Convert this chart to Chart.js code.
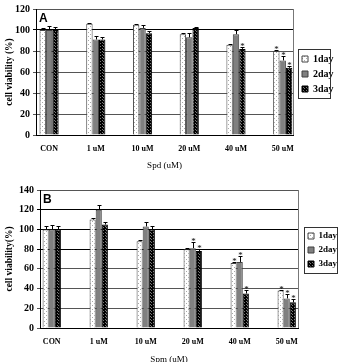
<!DOCTYPE html>
<html><head><meta charset="utf-8">
<script src="https://cdn.jsdelivr.net/npm/chart.js@4"></script>
<style>
html,body{margin:0;padding:0;background:#fff;overflow:hidden;width:339px;height:362px}
#a{position:absolute;left:0;top:0;width:339px;height:181px}
#b{position:absolute;left:0;top:181px;width:339px;height:190px}
</style></head><body>
<div id="a"><canvas id="ca" width="339" height="181"></canvas></div>
<div id="b"><canvas id="cb" width="339" height="190"></canvas></div>
<script>
// ---- data ----
const categories = ['CON', '1 uM', '10 uM', '20 uM', '40 uM', '50 uM'];
const seriesNames = ['1day', '2day', '3day'];

// Panel A: Spd
const spdDay1 = [100, 106, 105, 96, 86, 80];
const spdDay2 = [100, 91, 102, 93, 96, 71];
const spdDay3 = [100, 91, 97, 102, 82, 64];
const spdErr1 = [2, 1, 1, 1, 1, 1];
const spdErr2 = [4, 3, 3, 4, 4, 4];
const spdErr3 = [3, 2, 2, 1, 2, 2];
const spdStar1 = [0, 0, 0, 0, 0, 1];
const spdStar2 = [0, 0, 0, 0, 0, 1];
const spdStar3 = [0, 0, 0, 0, 1, 1];
const spdTicks = [0, 20, 40, 60, 80, 100, 120];

// Panel B: Spm
const spmDay1 = [100, 110, 88, 80, 66, 38];
const spmDay2 = [100, 120, 103, 81, 67, 30];
const spmDay3 = [100, 105, 100, 78, 35, 26];
const spmErr1 = [3, 2, 1, 1, 1, 1];
const spmErr2 = [5, 5, 5, 6, 6, 5];
const spmErr3 = [3, 3, 3, 2, 4, 3];
const spmStar1 = [0, 0, 0, 0, 1, 1];
const spmStar2 = [0, 0, 0, 1, 1, 1];
const spmStar3 = [0, 0, 0, 1, 1, 1];
const spmTicks = [0, 20, 40, 60, 80, 100, 120, 140];

// ---- patterns ----
function makePattern(bg, dot, step) {
  const c = document.createElement('canvas');
  c.width = step; c.height = step;
  const g = c.getContext('2d');
  g.fillStyle = bg; g.fillRect(0, 0, step, step);
  g.fillStyle = dot; g.fillRect(0, 0, 1, 1);
  g.fillRect(Math.floor(step/2), Math.floor(step/2), 1, 1);
  return document.createElement('canvas').getContext('2d').createPattern(c, 'repeat');
}
const fill1 = makePattern('#ffffff', '#a8a8a8', 4);
const fill2 = '#808080';
const fill3 = makePattern('#000000', '#7a7a7a', 3);
const fills = [fill1, fill2, fill3];
const borders = ['#444444', '#404040', '#000000'];

const serif = 'Liberation Serif, Times New Roman, serif';

const errPlugin = {
  id: 'errbars',
  afterLayout(chart, args, opts) {
    const lg = chart.legend;
    if (!lg) return;
    const a = chart.chartArea;
    const w = lg.width;
    lg.left = a.right + opts.legendDx;
    lg.right = lg.left + w;
    lg.top += opts.legendDy;
    lg.bottom += opts.legendDy;
  },
  afterDatasetsDraw(chart) {
    const ctx = chart.ctx, ys = chart.scales.y;
    ctx.save();
    ctx.strokeStyle = '#000'; ctx.lineWidth = 1;
    ctx.fillStyle = '#000';
    ctx.font = '9px ' + serif;
    ctx.textAlign = 'center'; ctx.textBaseline = 'bottom';
    chart.data.datasets.forEach((ds, di) => {
      const meta = chart.getDatasetMeta(di);
      meta.data.forEach((bar, i) => {
        const v = ds.data[i].y, e = ds.err[i];
        const x = Math.round(bar.x) + 0.5;
        const yTop = Math.round(ys.getPixelForValue(v + e)) + 0.5;
        ctx.beginPath();
        ctx.moveTo(x, bar.y); ctx.lineTo(x, yTop);
        ctx.moveTo(x - 2, yTop); ctx.lineTo(x + 2, yTop);
        ctx.stroke();
        if (ds.star[i]) ctx.fillText('*', x, yTop + 4);
      });
    });
    ctx.restore();
  },
  afterDraw(chart, args, opts) {
    const ctx = chart.ctx, a = chart.chartArea;
    ctx.save();
    ctx.strokeStyle = '#777'; ctx.lineWidth = 1;
    ctx.beginPath();
    ctx.moveTo(Math.round(a.right) + 0.5, a.top);
    ctx.lineTo(Math.round(a.right) + 0.5, a.bottom);
    ctx.stroke();
    // panel letter
    ctx.fillStyle = '#000';
    ctx.font = 'bold 12px Liberation Sans, Arial, sans-serif';
    ctx.textAlign = 'left'; ctx.textBaseline = 'top';
    ctx.fillText(opts.letter, a.left + 3, a.top + 4);
    // legend frame
    const hb = chart.legend.legendHitBoxes;
    if (hb && hb.length) {
      let x0 = Infinity, y0 = Infinity, y1 = -Infinity;
      hb.forEach(h => { x0 = Math.min(x0, h.left); y0 = Math.min(y0, h.top); y1 = Math.max(y1, h.top + h.height); });
      ctx.strokeStyle = '#333';
      ctx.strokeRect(Math.round(x0 - 4) + 0.5, Math.round(y0 - 5) + 0.5, opts.frameW, Math.round(y1 - y0 + 9));
    }
    ctx.restore();
  }
};

function build(canvasId, vals, errs, stars, ticks, cfg) {
  const datasets = seriesNames.map((n, k) => ({
    label: n,
    data: vals[k].map((v, i) => ({ x: i, y: v })),
    err: errs[k],
    star: stars[k],
    backgroundColor: fills[k],
    borderColor: borders[k],
    borderWidth: 1,
    categoryPercentage: cfg.catPct,
    barPercentage: 1.0
  }));
  return new Chart(document.getElementById(canvasId), {
    type: 'bar',
    data: { datasets },
    plugins: [errPlugin],
    options: {
      responsive: false,
      animation: false,
      devicePixelRatio: 1,
      layout: { padding: { top: cfg.padTop, right: 0, left: 0, bottom: 0 } },
      plugins: {
        errbars: { letter: cfg.letter, legendDx: cfg.legendDx, legendDy: cfg.legendDy, frameW: cfg.frameW },
        tooltip: { enabled: false },
        legend: {
          position: 'right',
          fullSize: false,
          maxWidth: cfg.legendW,
          labels: {
            boxWidth: 6, boxHeight: 6, padding: 5,
            color: '#000',
            font: { family: serif, size: cfg.legendFont, weight: 'bold' }
          }
        }
      },
      scales: {
        x: {
          type: 'linear',
          min: cfg.xMin, max: cfg.xMax,
          offset: false,
          afterBuildTicks: s => { s.ticks = categories.map((c, i) => ({ value: i })); },
          afterFit: s => { s.height = cfg.xHeight; },
          ticks: {
            callback: v => categories[v],
            autoSkip: false, maxRotation: 0,
            color: '#000', padding: 9,
            font: { family: serif, size: 8, weight: 'bold' }
          },
          grid: { display: false, drawTicks: false, offset: false },
          border: { display: true, color: '#000' },
          title: {
            display: true, text: cfg.xTitle, color: '#000',
            font: { family: serif, size: 9 },
            padding: { top: 2, bottom: cfg.xTitlePadBottom }
          }
        },
        y: {
          min: ticks[0], max: ticks[ticks.length - 1],
          afterBuildTicks: s => { s.ticks = ticks.map(v => ({ value: v })); },
          afterFit: s => { s.width = cfg.yWidth; },
          ticks: {
            color: '#000', padding: 3,
            font: { family: serif, size: 10, weight: 'bold' }
          },
          grid: {
            color: c => cfg.darkLines.includes(c.tick.value) ? '#000' : '#555',
            tickLength: 3, lineWidth: 1
          },
          border: { display: true, color: '#000' },
          title: {
            display: true, text: cfg.yTitle, color: '#000',
            font: { family: serif, size: 9.5, weight: 'bold' },
            padding: { top: 4, bottom: 0 }
          }
        }
      }
    }
  });
}

build('ca', [spdDay1, spdDay2, spdDay3], [spdErr1, spdErr2, spdErr3], [spdStar1, spdStar2, spdStar3], spdTicks, {
  letter: 'A', xTitle: 'Spd (uM)', yTitle: 'cell viability (%)',
  xMin: -0.28, xMax: 5.22, catPct: 0.41, padTop: 0,
  legendW: 46, legendDx: 4, legendDy: 2, legendFont: 10, frameW: 32,
  xHeight: 46, xTitlePadBottom: 10, yWidth: 36, darkLines: [100]
});
build('cb', [spmDay1, spmDay2, spmDay3], [spmErr1, spmErr2, spmErr3], [spmStar1, spmStar2, spmStar3], spmTicks, {
  letter: 'B', xTitle: 'Spm (uM)', yTitle: 'cell viability(%)',
  xMin: -0.25, xMax: 5.24, catPct: 0.39, padTop: 2,
  legendW: 41, legendDx: 5, legendDy: -9, legendFont: 9, frameW: 33,
  xHeight: 43, xTitlePadBottom: 6, yWidth: 40, darkLines: [80, 100, 120]
});
</script>
</body></html>
